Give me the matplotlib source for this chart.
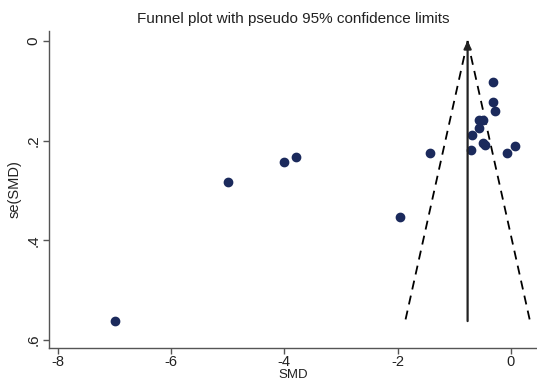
import numpy as np
import matplotlib
matplotlib.use("Agg")
import matplotlib.pyplot as plt

# study effects (SMD) and their standard errors
smd = [-0.31, -0.31, -0.28, -0.56, -0.50, -0.56, -0.69, -0.49, -0.45,
       0.07, -0.70, -0.07, -1.42, -1.95, -3.79, -4.00, -5.00, -6.99]
se_smd = [0.082, 0.122, 0.140, 0.159, 0.159, 0.175, 0.189, 0.205, 0.208,
          0.211, 0.219, 0.224, 0.225, 0.353, 0.233, 0.242, 0.283, 0.562]

pooled = -0.765
x_ticks = [-8, -6, -4, -2, 0]
y_ticks = [0, 0.2, 0.4, 0.6]
y_tick_labels = ["0", ".2", ".4", ".6"]

plt.rcParams['font.family'] = ['Liberation Sans', 'DejaVu Sans']

fig = plt.figure(figsize=(5.37, 3.82), dpi=100)
ax = fig.add_axes([49 / 537, 1 - 348 / 382, 1 - 49 / 537, (348 - 31) / 382])

# pseudo 95% limits
se_max = max(se_smd)
se_line = np.array([0.0, se_max])
ax.plot(pooled - 1.96 * se_line, se_line, color='black', lw=1.3, ls=(0, (5, 3.5)))
ax.plot(pooled + 1.96 * se_line, se_line, color='black', lw=1.3, ls=(0, (5, 3.5)))

# pooled estimate with arrow at top
ax.annotate("", xy=(pooled, 0.0), xytext=(pooled, se_max),
            arrowprops=dict(arrowstyle='-|>', color='#222222', lw=1.6,
                            mutation_scale=11, shrinkA=0, shrinkB=0))

ax.plot(smd, se_smd, 'o', color='#1b2a5c', ms=6, mec='#1b2a5c')

ax.set_xlim(-8.154, 0.46)
ax.set_ylim(0.616, -0.02)

ax.set_xticks(x_ticks)
ax.set_xticklabels([str(t) for t in x_ticks])
ax.set_yticks(y_ticks)
ax.set_yticklabels(y_tick_labels, rotation=90, va='center')

for side in ['top', 'right']:
    ax.spines[side].set_visible(False)
for side in ['left', 'bottom']:
    ax.spines[side].set_color('#555555')
    ax.spines[side].set_linewidth(1.0)
ax.tick_params(length=4, width=1, color='#555555', labelsize=11, labelcolor='#222222', pad=2)
ax.tick_params(axis='x', labelsize=10.5, pad=1)

ax.set_xlabel("SMD", fontsize=9.5, color='#222222')
ax.xaxis.set_label_coords(0.5, -0.066)
ax.set_ylabel("se(SMD)", fontsize=10.5, color='#222222', labelpad=4)

fig.text(293 / 537, 1 - 19 / 382, "Funnel plot with pseudo 95% confidence limits",
         ha='center', va='center', fontsize=11, color='#222222')

fig.savefig("out.png", dpi=100)
